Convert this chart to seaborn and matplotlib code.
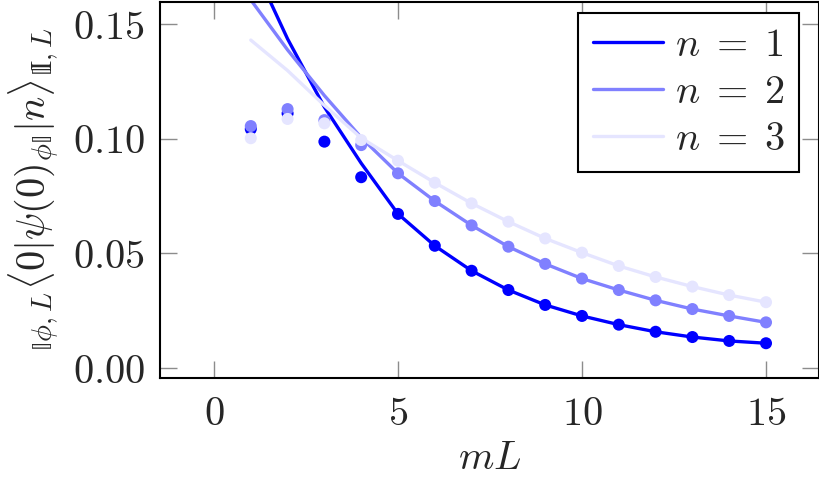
import numpy as np
import pandas as pd
import matplotlib
matplotlib.use("Agg")
import matplotlib.pyplot as plt
import seaborn as sns

# ---- data ----
mL = [1, 2, 3, 4, 5, 6, 7, 8, 9, 10, 11, 12, 13, 14, 15]
pts_n1 = [0.1042, 0.1110, 0.0987, 0.0832, 0.0672, 0.0533, 0.0424, 0.0340, 0.0275,
          0.0227, 0.0189, 0.0158, 0.0135, 0.0118, 0.0108]
pts_n2 = [0.1055, 0.1129, 0.1081, 0.0972, 0.0849, 0.0728, 0.0622, 0.0529, 0.0454,
          0.0390, 0.0340, 0.0295, 0.0257, 0.0227, 0.0199]
pts_n3 = [0.1002, 0.1086, 0.1067, 0.0994, 0.0904, 0.0808, 0.0718, 0.0638, 0.0565,
          0.0503, 0.0445, 0.0397, 0.0355, 0.0318, 0.0287]
curve_n1 = [0.1780, 0.1435, 0.1138, 0.0893, 0.0672, 0.0533, 0.0424, 0.0340, 0.0275,
            0.0227, 0.0189, 0.0158, 0.0135, 0.0118, 0.0108]
curve_n2 = [0.1605, 0.1387, 0.1188, 0.1005, 0.0849, 0.0728, 0.0622, 0.0529, 0.0454,
            0.0390, 0.0340, 0.0295, 0.0257, 0.0227, 0.0199]
curve_n3 = [0.1430, 0.1297, 0.1145, 0.1003, 0.0904, 0.0808, 0.0718, 0.0638, 0.0565,
            0.0503, 0.0445, 0.0397, 0.0355, 0.0318, 0.0287]
labels = [r"$n\;=\;1$", r"$n\;=\;2$", r"$n\;=\;3$"]
colors = ["#0000ff", "#8080ff", "#e5e5ff"]
xticks = [0, 5, 10, 15]
yticks = [0.00, 0.05, 0.10, 0.15]
ytick_labels = ["0.00", "0.05", "0.10", "0.15"]

sns.set_theme(style="ticks")
plt.rcParams["font.family"] = ["DejaVu Serif"]
plt.rcParams["mathtext.fontset"] = "cm"

FS = 29
W, H = 820, 478
fig = plt.figure(figsize=(W / 100, H / 100), dpi=100)
ax = fig.add_axes([160 / W, 1 - 378 / H, (819 - 160) / W, (378 - 2) / H])

series = [(pts_n1, curve_n1), (pts_n2, curve_n2), (pts_n3, curve_n3)]
handles = []
for (pts, cur), lab, col in zip(series, labels, colors):
    dfc = pd.DataFrame({"x": mL, "y": cur})
    dfp = pd.DataFrame({"x": mL, "y": pts})
    sns.lineplot(data=dfc, x="x", y="y", color=col, lw=2.4, ax=ax, label=lab,
                 legend=False, zorder=2)
    handles.append(ax.lines[-1])
    sns.scatterplot(data=dfp, x="x", y="y", color=col, s=75, edgecolor="none",
                    ax=ax, legend=False, zorder=3)

ax.set_xlim(-1.467, 16.44)
ax.set_ylim(-0.00436, 0.1596)
ax.set_xticks(xticks)
ax.set_xticklabels([f"${t}$" for t in xticks])
ax.set_yticks(yticks)
ax.set_yticklabels([f"${t}$" for t in ytick_labels])
ax.tick_params(axis="both", which="both", direction="in", length=12.5, width=1.0,
               color="#8c8c8c", labelsize=FS, top=True, right=True, pad=11)
ax.tick_params(axis="x", pad=13)
for sp in ax.spines.values():
    sp.set_linewidth(1.5)
    sp.set_color("black")
    sp.set_visible(True)

ax.set_xlabel(r"$mL$", fontsize=FS, labelpad=5)
ax.set_ylabel("${}_{𝕀\\phi,L}\\langle 0|\\psi(0)_{\\phi𝕀}|n\\rangle_{𝕀\\!\\mathrm{I},L}$",
              fontsize=FS, labelpad=8)

leg = ax.legend(handles=handles, labels=labels, loc="upper right",
                bbox_to_anchor=(799 / W, 1 - 13 / H), bbox_transform=fig.transFigure,
                fontsize=FS, frameon=True, fancybox=False, handlelength=1.75,
                handletextpad=0.3, borderpad=0.35, labelspacing=0.25,
                borderaxespad=0)
leg.get_frame().set_edgecolor("black")
leg.get_frame().set_linewidth(1.5)
leg.get_frame().set_alpha(1)

fig.savefig("out.png", dpi=100)
